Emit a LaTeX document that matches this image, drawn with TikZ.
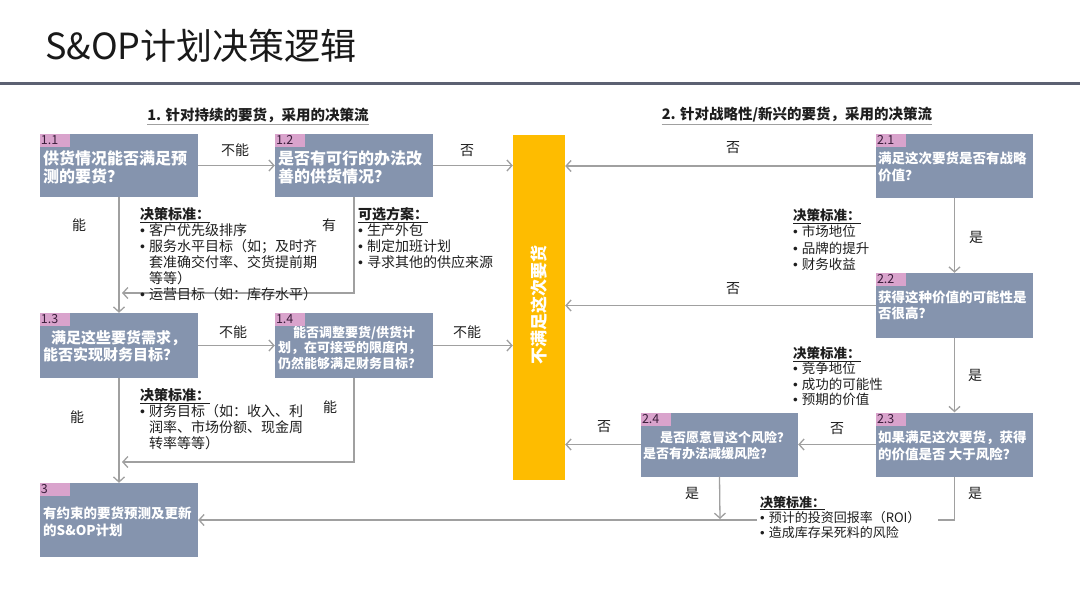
\documentclass[tikz,border=0pt]{standalone}
\usepackage{fontspec}
\setmainfont{Noto Sans CJK SC}
\newfontfamily\bulfont{Liberation Sans}
\usetikzlibrary{arrows.meta}
\definecolor{boxc}{RGB}{133,148,174}
\definecolor{tabc}{RGB}{217,163,204}
\definecolor{tabtext}{RGB}{60,30,60}
\definecolor{yel}{RGB}{254,188,0}
\definecolor{arrc}{RGB}{160,160,160}
\definecolor{rulec}{RGB}{92,97,114}
\definecolor{labc}{RGB}{30,30,30}
\newcommand{\crithead}{\underline{\textbf{决策标准：}}}
\newcommand{\bul}{{\bulfont •}\hspace{4pt}}
\newcommand{\ind}{\phantom{\bul}}
\begin{document}
\begin{tikzpicture}[x=1pt,y=-1pt,
  box/.style={rectangle, fill=boxc, inner sep=0pt, minimum width=158pt},
  tabbox/.style={rectangle, fill=tabc, inner xsep=1pt, inner ysep=0pt, text width=28pt, minimum height=13pt, anchor=north west, text=tabtext, align=left, font=\fontsize{12.5}{12.5}\selectfont},
  bt/.style={anchor=base west, align=left, text=white, inner sep=0pt},
  arr/.style={draw=arrc, line width=1.3pt, -{Straight Barb[length=5pt,width=11pt]}},
  ln/.style={draw=arrc, line width=1.3pt},
  lab/.style={font=\fontsize{14}{14}\selectfont, text=labc, inner sep=0pt},
  crit/.style={anchor=base west, align=left, inner sep=0pt, text=labc},
  head/.style={font=\bfseries\fontsize{14.5}{14.5}\selectfont, inner xsep=0pt, inner ysep=1.5pt, text=labc},
]
\useasboundingbox (0,0) rectangle (1080,608);

% title and rule
\node[anchor=west, inner sep=0pt, font=\fontsize{36}{36}\selectfont, text=black!90] (title) at (45,46) {S\&OP计划决策逻辑};
\draw[rulec, line width=3pt] (0,83.5) -- (1080,83.5);

% headings
\node[head] (h1) at (258,115) {1. 针对持续的要货，采用的决策流};
\draw[arrc, line width=0.8pt] (h1.south west) -- (h1.south east);
\node[head] (h2) at (797,115) {2. 针对战略性/新兴的要货，采用的决策流};
\draw[arrc, line width=0.8pt] (h2.south west) -- (h2.south east);

% boxes
\node[box, minimum height=63pt] (b11) at (119,165.5) {};
\node[box, minimum height=63pt] (b12) at (354,165.5) {};
\node[box, minimum height=65pt] (b13) at (119,345.5) {};
\node[box, minimum height=65pt] (b14) at (354,345.5) {};
\node[box, minimum height=74pt] (b3) at (119,520) {};
\node[box, minimum width=157pt, minimum height=64pt] (b21) at (954.5,166) {};
\node[box, minimum width=157pt, minimum height=65pt] (b22) at (954.5,305.5) {};
\node[box, minimum width=157pt, minimum height=64pt] (b23) at (954.5,444.5) {};
\node[box, minimum width=157pt, minimum height=64pt] (b24) at (719.5,444.5) {};
\node[rectangle, fill=yel, inner sep=0pt, minimum width=52pt, minimum height=345pt] (bar) at (539,307.5) {};
\node[rotate=90, text=white, inner sep=0pt, font=\bfseries\fontsize{17}{17}\selectfont] (bartxt) at (539,305) {不满足这次要货};

% box texts (anchor = baseline of last line)
\node[bt, font=\bfseries\fontsize{16}{18}\selectfont] (t11) at (43,182) {供货情况能否满足预\\测的要货？};
\node[bt, font=\bfseries\fontsize{16}{18}\selectfont] (t12) at (278,182) {是否有可行的办法改\\善的供货情况？};
\node[bt, font=\bfseries\fontsize{15}{17}\selectfont] (t13) at (43,360.5) {\hspace{8pt}满足这些要货需求，\\能否实现财务目标？};
\node[bt, font=\bfseries\fontsize{13}{15.5}\selectfont] (t14) at (278,368) {\hspace{15pt}能否调整要货/供货计\\划，在可接受的限度内，\\仍然能够满足财务目标？};
\node[bt, font=\bfseries\fontsize{13.5}{17}\selectfont] (t3) at (43,535) {有约束的要货预测及更新\\的S\&OP计划};
\node[bt, font=\bfseries\fontsize{13.5}{17}\selectfont] (t21) at (878,180) {满足这次要货是否有战略\\价值？};
\node[bt, font=\bfseries\fontsize{13.5}{16.5}\selectfont] (t22) at (878,318.5) {获得这种价值的可能性是\\否很高？};
\node[bt, font=\bfseries\fontsize{13.5}{17}\selectfont] (t23) at (878,459) {如果满足这次要货，获得\\的价值是否 大于风险？};
\node[bt, font=\bfseries\fontsize{13}{16}\selectfont] (t24) at (643,458) {\hspace{17pt}是否愿意冒这个风险？\\是否有办法减缓风险？};

% tabs
\node[tabbox] (tab11) at (b11.north west) {1.1};
\node[tabbox] (tab12) at (b12.north west) {1.2};
\node[tabbox] (tab13) at (b13.north west) {1.3};
\node[tabbox] (tab14) at (b14.north west) {1.4};
\node[tabbox] (tab3) at (b3.north west) {3};
\node[tabbox] (tab21) at (b21.north west) {2.1};
\node[tabbox] (tab22) at (b22.north west) {2.2};
\node[tabbox] (tab23) at (b23.north west) {2.3};
\node[tabbox] (tab24) at (b24.north west) {2.4};

% helper coordinates
\coordinate (m1) at (122,293);
\coordinate (m2) at (122,462);
\coordinate (j1) at (720,519);
\coordinate (j2) at (938,520);
\coordinate (j3) at (757,520);

% connectors left flow
\draw[arr] (b11.east) -- (b12.west);
\draw[arr] (b12.east) -- (b12.east -| bar.west);
\draw[arr] (b11.south) -- (b13.north);
\draw[arr] (b12.south) |- (m1);
\draw[arr] (b13.east) -- (b14.west);
\draw[arr] (b14.east) -- (b14.east -| bar.west);
\draw[arr] (b13.south) -- (b3.north);
\draw[arr] (b14.south) |- (m2);

% connectors right flow
\draw[arr] (b21.west) -- (b21.west -| bar.east);
\draw[arr] (b22.west) -- (b22.west -| bar.east);
\draw[arr] (b21.south) -- (b22.north);
\draw[arr] (b22.south) -- (b23.north);
\draw[arr] (b23.west) -- (b24.east);
\draw[arr] (b24.west) -- (b24.west -| bar.east);
\draw[arr] (b24.south) -- (j1);
\draw[ln] (b23.south) |- (j2);
\draw[arr] (j3) -- (b3.east);

% labels
\node[lab] (l1) at (235,150) {不能};
\node[lab] (l2) at (467,151) {否};
\node[lab] (l3) at (733,148) {否};
\node[lab] (l4) at (733,289) {否};
\node[lab] (l5) at (79,225) {能};
\node[lab] (l6) at (329,225) {有};
\node[lab] (l7) at (233,332) {不能};
\node[lab] (l8) at (467,332) {不能};
\node[lab] (l9) at (77,417) {能};
\node[lab] (l10) at (330,407) {能};
\node[lab] (l11) at (976,237) {是};
\node[lab] (l12) at (975,375) {是};
\node[lab] (l13) at (837,429) {否};
\node[lab] (l14) at (604,427) {否};
\node[lab] (l15) at (692,493) {是};
\node[lab] (l16) at (975,493) {是};

% criteria (anchor = baseline of last line)
\node[crit, font=\fontsize{14}{16}\selectfont] (c1) at (140,299) {\crithead\\\bul 客户优先级排序\\\bul 服务水平目标（如；及时齐\\\ind 套准确交付率、交货提前期\\\ind 等等）\\\bul 运营目标（如：库存水平）};
\node[crit, font=\fontsize{14}{16}\selectfont] (c2) at (358,267) {\underline{\textbf{可选方案：}}\\\bul 生产外包\\\bul 制定加班计划\\\bul 寻求其他的供应来源};
\node[crit, font=\fontsize{14}{16}\selectfont] (c3) at (140,448) {\crithead\\\bul 财务目标（如：收入、利\\\ind 润率、市场份额、现金周\\\ind 转率等等）};
\node[crit, font=\fontsize{13.5}{16.5}\selectfont] (c4) at (793,269.5) {\crithead\\\bul 市场地位\\\bul 品牌的提升\\\bul 财务收益};
\node[crit, font=\fontsize{13.5}{15.5}\selectfont] (c5) at (793,404.5) {\crithead\\\bul 竞争地位\\\bul 成功的可能性\\\bul 预期的价值};
\node[crit, font=\fontsize{13}{15}\selectfont] (c6) at (760,537) {\crithead\\\bul 预计的投资回报率（ROI）\\\bul 造成库存呆死料的风险};
\end{tikzpicture}
\end{document}
